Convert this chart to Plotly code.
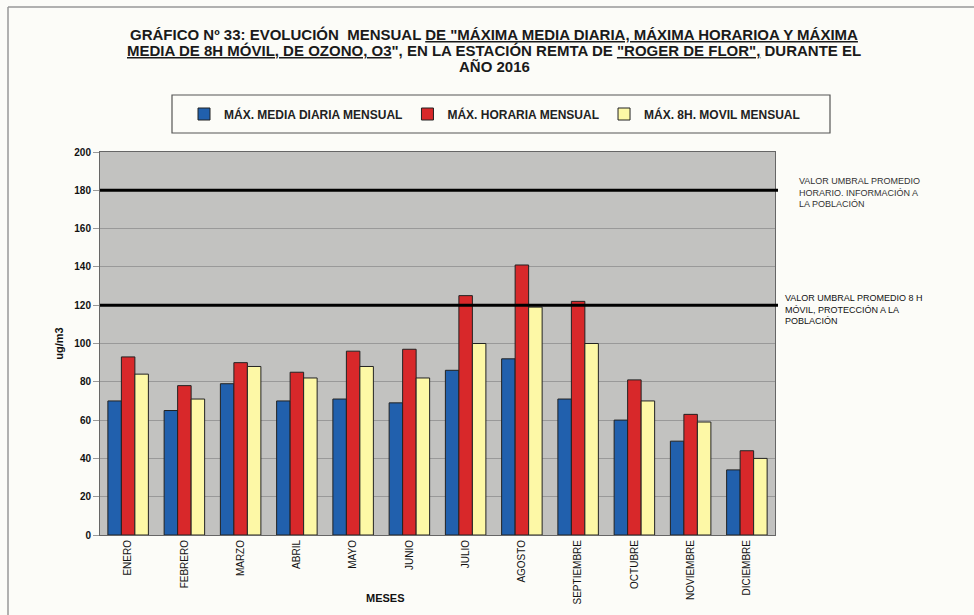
import plotly.graph_objects as go

meses = ["ENERO", "FEBRERO", "MARZO", "ABRIL", "MAYO", "JUNIO", "JULIO",
         "AGOSTO", "SEPTIEMBRE", "OCTUBRE", "NOVIEMBRE", "DICIEMBRE"]
max_media_diaria = [70, 65, 79, 70, 71, 69, 86, 92, 71, 60, 49, 34]
max_horaria = [93, 78, 90, 85, 96, 97, 125, 141, 122, 81, 63, 44]
max_8h_movil = [84, 71, 88, 82, 88, 82, 100, 119, 100, 70, 59, 40]

umbral_informacion = 180
umbral_proteccion = 120

titulo = [
    "GRÁFICO Nº 33: EVOLUCIÓN  MENSUAL <u>DE \"MÁXIMA MEDIA DIARIA, MÁXIMA HORARIOA Y MÁXIMA</u>",
    "<u>MEDIA DE 8H MÓVIL, DE OZONO, O3</u>\", EN LA ESTACIÓN REMTA DE <u>\"ROGER DE FLOR\",</u> DURANTE EL",
    "AÑO 2016",
]

FONT = "Liberation Sans, Arial, sans-serif"

fig = go.Figure()
fig.add_trace(go.Bar(x=meses, y=max_media_diaria, name="<b>MÁX. MEDIA DIARIA MENSUAL</b>",
                     marker=dict(color="#2160ad", line=dict(color="#222", width=1))))
fig.add_trace(go.Bar(x=meses, y=max_horaria, name="<b>MÁX. HORARIA MENSUAL</b>",
                     marker=dict(color="#d8282a", line=dict(color="#222", width=1))))
fig.add_trace(go.Bar(x=meses, y=max_8h_movil, name="<b>MÁX. 8H. MOVIL MENSUAL</b>",
                     marker=dict(color="#fdf8a6", line=dict(color="#222", width=1))))


# plot area: x 100..775 px, y 152..535 px
def px_x(p):
    return (p - 100) / 675


def px_y(p):
    return (535 - p) / 383


shapes = [
    dict(type="line", xref="paper", yref="y", x0=0, x1=px_x(778),
         y0=umbral_informacion, y1=umbral_informacion, line=dict(color="black", width=3)),
    dict(type="line", xref="paper", yref="y", x0=0, x1=px_x(778),
         y0=umbral_proteccion, y1=umbral_proteccion, line=dict(color="black", width=3)),
    # legend box
    dict(type="rect", xref="paper", yref="paper", x0=px_x(172), x1=px_x(830),
         y0=px_y(133), y1=px_y(95), line=dict(color="#555", width=1.2)),
    # outer frame
    dict(type="line", xref="paper", yref="paper", x0=px_x(8), x1=px_x(980),
         y0=px_y(7), y1=px_y(7), line=dict(color="#999", width=1.5)),
    dict(type="line", xref="paper", yref="paper", x0=px_x(8), x1=px_x(8),
         y0=px_y(7), y1=px_y(620), line=dict(color="#999", width=1.5)),
]

annotations = [
    dict(text="VALOR UMBRAL PROMEDIO<br>HORARIO. INFORMACIÓN A<br>LA POBLACIÓN",
         xref="paper", yref="paper", x=px_x(797), y=px_y(174), xanchor="left", yanchor="top",
         align="left", showarrow=False, font=dict(size=9, color="#333")),
    dict(text="VALOR UMBRAL PROMEDIO 8 H<br>MÓVIL, PROTECCIÓN A LA<br>POBLACIÓN",
         xref="paper", yref="paper", x=px_x(783), y=px_y(291), xanchor="left", yanchor="top",
         align="left", showarrow=False, font=dict(size=9, color="#111")),
    dict(text="<b>MESES</b>", xref="paper", yref="paper", x=px_x(385), y=px_y(598),
         xanchor="center", yanchor="middle", showarrow=False, font=dict(size=11, color="#111")),
]
for i, linea in enumerate(titulo):
    annotations.append(dict(text=f"<b>{linea}</b>", xref="paper", yref="paper",
                            x=px_x(494), y=px_y(35 + 15.5 * i), xanchor="center",
                            yanchor="middle", showarrow=False,
                            font=dict(size=15, color="#1a1a1a")))

fig.update_layout(
    width=974,
    height=615,
    paper_bgcolor="#fcfcf8",
    plot_bgcolor="#c2c2c0",
    font=dict(family=FONT, color="#111"),
    margin=dict(l=100, r=199, t=152, b=80, autoexpand=False),
    barmode="group",
    bargap=0.28,
    bargroupgap=0,
    showlegend=True,
    legend=dict(orientation="h", x=px_x(184), y=px_y(114), xanchor="left", yanchor="middle",
                bgcolor="rgba(0,0,0,0)", font=dict(size=12, color="#222"),
                traceorder="normal", itemwidth=30),
    xaxis=dict(tickangle=-90, tickfont=dict(size=10, color="#111"), showline=True,
               linecolor="#666", mirror=True, ticks=""),
    yaxis=dict(range=[0, 200], dtick=20, gridcolor="#999", gridwidth=1,
               tickfont=dict(size=10, color="#111"), tickprefix="<b>", ticksuffix="</b>",
               ticks="outside", ticklen=6, tickcolor="#999", showline=True,
               linecolor="#666", mirror=True, zeroline=False,
               title=dict(text="<b>ug/m3</b>", font=dict(size=11), standoff=8)),
    shapes=shapes,
    annotations=annotations,
)

fig.write_html("out.html", config={"displayModeBar": False},
               post_script="document.body.style.margin='0';")
